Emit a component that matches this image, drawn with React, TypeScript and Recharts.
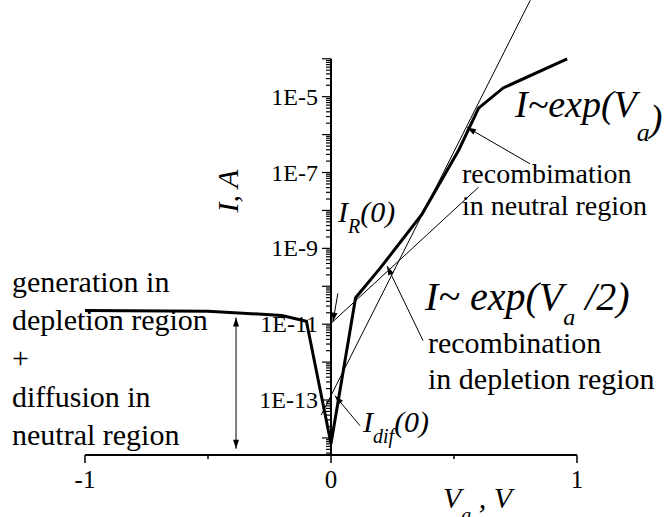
import React from 'react';
import { ComposedChart, Line, XAxis, YAxis, ReferenceLine } from 'recharts';

const W = 672;
const H = 517;
const Y_AXIS_W = 1;
const MARGIN = { top: 0, right: 95, bottom: 0, left: 85 - Y_AXIS_W };
const X_AXIS_H = 62;
// y axis sits at V = 0, i.e. in the middle of the plot area
const HALF_PLOT = (W - MARGIN.left - Y_AXIS_W - MARGIN.right) / 2;
const SERIF = "'Liberation Serif', 'Times New Roman', serif";

// |I| of the diode, A, vs applied voltage, V
const voltage = [-1, -0.5, -0.2, -0.1, 0, 0.1, 0.2, 0.37, 0.52, 0.6, 0.7, 0.96];
const current = [2.3e-11, 2.2e-11, 1.7e-11, 1.2e-11, 7e-15, 5e-11, 3e-10, 8e-9, 4e-7, 5e-6, 1.7e-5, 1e-4];

// asymptote I_R(0)·exp(V/2)
const recombV = [0, 0.6];
const recombI = [1.05e-11, 4.1e-8];
// asymptote I_dif(0)·exp(V)
const diffV = [-0.04, 0.81];
const diffI = [4e-14, 3.5e-3];

const Y_MIN = Math.pow(10, -14.45);
const Y_MAX = Math.pow(10, -2.45);
const Y_AXIS_TOP = 1e-4;
const yLabelExps = [-13, -11, -9, -7, -5];
const xTicks = [-1, -0.5, 0, 0.5, 1];
const xLabels = [-1, 0, 1];

// annotation arrows: [from, to] in (V, I)
const arrowIR = [{ x: 0.028, y: 6.5e-11 }, { x: 0.008, y: 1.17e-11 }];
const arrowIdif = [{ x: 0.118, y: 2.1e-14 }, { x: 0.016, y: 1.3e-13 }];
const arrowHalf = [{ x: 0.374, y: 3.7e-12 }, { x: 0.228, y: 3.4e-10 }];
const arrowFull = [{ x: 0.809, y: 1.7e-7 }, { x: 0.553, y: 1.55e-6 }];
const arrowGen = [{ x: -0.386, y: 1.5e-11 }, { x: -0.386, y: 5.2e-15 }];

const toPoints = (vs: number[], is: number[]) => vs.map((v, k) => ({ v, i: is[k] }));
const curve = toPoints(voltage, current);
const recomb = toPoints(recombV, recombI);
const diff = toPoints(diffV, diffI);

// log ticks: 1..9 x 10^n inside the axis range
const yTicks: number[] = [];
for (let e = -15; e <= -5; e++) {
  for (let m = 1; m <= 9; m++) {
    const t = m * Math.pow(10, e);
    if (t >= Y_MIN && t <= Y_AXIS_TOP) yTicks.push(t);
  }
}
yTicks.push(Y_AXIS_TOP);

const YTick = (props: any) => {
  const { x, y, payload } = props;
  const ax = x + HALF_PLOT;
  const v = payload.value;
  const e = Math.round(Math.log10(v));
  const major = Math.abs(v / Math.pow(10, e) - 1) < 1e-6;
  const len = major ? 9 : 5;
  return (
    <g>
      <line x1={ax - len} x2={ax} y1={y} y2={y} stroke="#000" strokeWidth={1.2} />
      {major && yLabelExps.includes(e) && (
        <text x={ax - 13} y={y} textAnchor="end" dominantBaseline="central"
          style={{ fontFamily: SERIF }} fontSize={24} fill="#000">
          {`1E${e}`}
        </text>
      )}
    </g>
  );
};

const XTick = (props: any) => {
  const { x, y, payload } = props;
  const labelled = xLabels.includes(payload.value);
  return (
    <g>
      <line x1={x} x2={x} y1={y} y2={y + (labelled ? 8 : 4)} stroke="#000" strokeWidth={1.5} />
      {labelled && (
        <text x={x} y={y + 33} textAnchor="middle" style={{ fontFamily: SERIF }} fontSize={25} fill="#000">
          {payload.value}
        </text>
      )}
    </g>
  );
};

const head = (x: number, y: number, ang: number) => {
  const L = 9;
  const w = 3;
  const bx = x - L * Math.cos(ang);
  const by = y - L * Math.sin(ang);
  const px = -Math.sin(ang) * w;
  const py = Math.cos(ang) * w;
  return <polygon points={`${x},${y} ${bx + px},${by + py} ${bx - px},${by - py}`} fill="#000" />;
};

const arrow = (both: boolean) => (p: any) => {
  const { x1, y1, x2, y2 } = p;
  const ang = Math.atan2(y2 - y1, x2 - x1);
  return (
    <g>
      <line x1={x1} y1={y1} x2={x2} y2={y2} stroke="#000" strokeWidth={1} />
      {head(x2, y2, ang)}
      {both && head(x1, y1, ang + Math.PI)}
    </g>
  );
};

const leftNote = ['generation in', 'depletion region', '+', 'diffusion in', 'neutral region'];

export default function App() {
  return (
    <div style={{ position: 'absolute', left: 0, top: 0, width: W, height: H, background: '#fff' }}>
      <ComposedChart width={W} height={H} margin={MARGIN}>
        <XAxis type="number" dataKey="v" domain={[-1, 1]} ticks={xTicks} interval={0}
          allowDataOverflow tick={XTick} tickLine={false} tickSize={0} tickMargin={0}
          axisLine={{ stroke: '#000', strokeWidth: 2 }} height={X_AXIS_H} />
        <YAxis type="number" scale="log" domain={[Y_MIN, Y_MAX]} ticks={yTicks} interval={0}
          allowDataOverflow tick={YTick} tickLine={false} axisLine={false}
          tickSize={0} tickMargin={0} width={Y_AXIS_W} />
        <ReferenceLine segment={[{ x: 0, y: Y_MIN }, { x: 0, y: Y_AXIS_TOP }]}
          stroke="#000" strokeWidth={2} ifOverflow="visible" />
        <Line data={recomb} dataKey="i" type="linear" stroke="#000" strokeWidth={1}
          dot={false} isAnimationActive={false} />
        <Line data={diff} dataKey="i" type="linear" stroke="#000" strokeWidth={1}
          dot={false} isAnimationActive={false} />
        <Line data={curve} dataKey="i" type="linear" stroke="#000" strokeWidth={3}
          strokeLinejoin="miter" dot={false} isAnimationActive={false} />
        <ReferenceLine segment={arrowIR} shape={arrow(false)} ifOverflow="visible" />
        <ReferenceLine segment={arrowIdif} shape={arrow(false)} ifOverflow="visible" />
        <ReferenceLine segment={arrowHalf} shape={arrow(false)} ifOverflow="visible" />
        <ReferenceLine segment={arrowFull} shape={arrow(false)} ifOverflow="visible" />
        <ReferenceLine segment={arrowGen} shape={arrow(true)} ifOverflow="visible" />
      </ComposedChart>

      <svg width={W} height={H} style={{ position: 'absolute', left: 0, top: 0, pointerEvents: 'none', fontFamily: SERIF }}
        fill="#000">
        <text x={227} y={191} fontSize={30} fontStyle="italic" textAnchor="middle"
          dominantBaseline="central" transform="rotate(-90 227 191)">I, A</text>
        <text x={443} y={508} fontSize={30} fontStyle="italic">
          V<tspan dy={14} fontSize={20}>a</tspan><tspan dy={-14}> , V</tspan>
        </text>

        {leftNote.map((s, k) => (
          <text key={s} x={12} y={292 + k * 38.2} fontSize={30}>{s}</text>
        ))}

        <text x={338} y={222} fontSize={30} fontStyle="italic">
          I<tspan dy={11} fontSize={20}>R</tspan><tspan dy={-11}>(0)</tspan>
        </text>
        <text x={363} y={432} fontSize={30} fontStyle="italic">
          I<tspan dy={11} fontSize={20}>dif</tspan><tspan dy={-11}>(0)</tspan>
        </text>

        <text x={515} y={117} fontSize={38} fontStyle="italic">
          I~exp(V<tspan dy={24} fontSize={26}>a</tspan><tspan dy={-10}>)</tspan>
        </text>
        <text x={462} y={183} fontSize={28}>recombimation</text>
        <text x={462} y={215} fontSize={28}>in neutral region</text>

        <text x={425} y={310} fontSize={40} fontStyle="italic">
          I~ exp(V<tspan dy={15} fontSize={24}>a</tspan><tspan dy={-15}> /2)</tspan>
        </text>
        <text x={428} y={353} fontSize={30}>recombination</text>
        <text x={428} y={389} fontSize={30}>in depletion region</text>
      </svg>
    </div>
  );
}
